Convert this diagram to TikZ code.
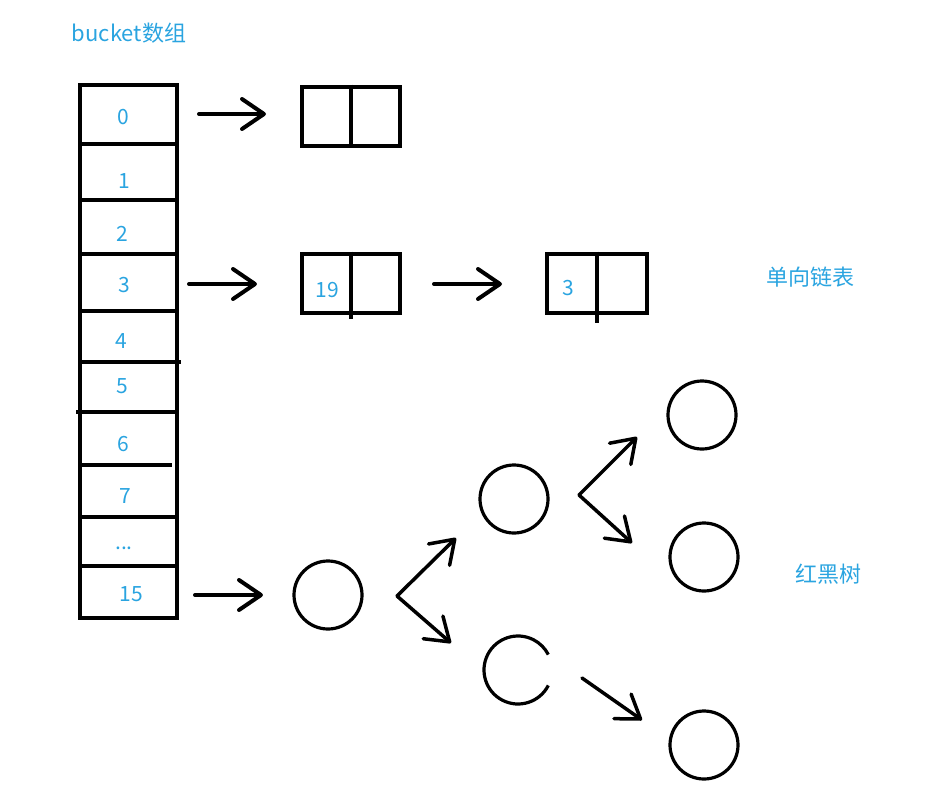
\documentclass[tikz,border=0pt]{standalone}
\usepackage{fontspec}
\newfontfamily\cjk{Noto Sans CJK SC}
\usepackage{tikz}
\usetikzlibrary{arrows.meta,positioning}
\definecolor{idxblue}{RGB}{42,164,224}

\begin{document}
\begin{tikzpicture}[x=1pt, y=-1pt,
    idx/.style={text=idxblue, inner sep=0pt, font=\cjk\fontsize{21}{25}\selectfont},
    heading/.style={text=idxblue, inner sep=0pt, font=\cjk\fontsize{22}{26}\selectfont},
    bar/.style={line width=4pt},
    lbox/.style={draw, line width=4pt, minimum width=98pt, minimum height=59pt, inner sep=0pt},
    tnode/.style={draw, circle, line width=3.2pt, minimum size=68pt, inner sep=0pt},
    arr/.style={line width=4pt, line cap=round, -{Straight Barb[length=22pt, width=30pt, round]}}]
\useasboundingbox (0,0) rectangle (935,785);
% bucket array (pixel grid, y downwards)
\node[heading] (title) at (129,33) {bucket数组};
\draw[bar] (80,85) rectangle (177,618);
\foreach \y/\xa/\xb in {144/78/177, 200/80/177, 254/80/177, 311/80/177, 362/78/181,
    412/76/177, 465/78/172, 517/80/177, 566/80/177}
  \draw[bar] (\xa,\y) -- (\xb,\y);
\foreach \i/\x/\y in {0/123/117, 1/124/181, 2/122/234, 3/124/285, 4/121/341,
    5/122/386, 6/123/444, 7/125/496, 15/131/594}
  \node[idx] (b\i) at (\x,\y) {\i};
\node[idx] (bdots) at (124,548) {...};

% singly linked lists
\node[lbox] (l0) at (351,116) {};
\draw[bar] (l0.north) -- (l0.south);
\node[lbox] (l19) at (351,283) {};
\draw[bar] (l19.north) -- ([yshift=-4pt]l19.south);
\node[idx] (v19) at (327,290) {19};
\node[lbox, minimum width=100pt] (l3) at (597,283) {};
\draw[bar] (l3.north) -- ([yshift=-8pt]l3.south);
\node[idx] (v3) at (568,288) {3};
\node[heading] (single) at (810,277) {单向链表};

\coordinate (a0s) at (199,114);  \coordinate (a0e) at (266,114);
\coordinate (a3s) at (189,284);  \coordinate (a3e) at (257,284);
\coordinate (a19s) at (434,284); \coordinate (a19e) at (502,284);
\coordinate (a15s) at (195,595); \coordinate (a15e) at (263,595);
\draw[arr] (a0s) -- (a0e);
\draw[arr] (a3s) -- (a3e);
\draw[arr] (a19s) -- (a19e);
\draw[arr] (a15s) -- (a15e);

% red-black tree
\node[tnode] (rt) at (328,595) {};
\node[tnode] (ra) at (514,499) {};
\node[tnode, draw=none] (rb) at (518,670) {};
\draw[line width=3.2pt] (rb.center) ++(27:34) arc[start angle=27, end angle=333, radius=34];
\node[tnode] (rc) at (702,415) {};
\node[tnode] (rd) at (704,557) {};
\node[tnode] (re) at (704,745) {};
\node[heading] (rbt) at (828,574) {红黑树};

\coordinate (k1) at (397,596); \coordinate (k1u) at (456,538); \coordinate (k1d) at (451,643);
\coordinate (k2) at (579,495); \coordinate (k2u) at (637,437); \coordinate (k2d) at (632,543);
\coordinate (k3) at (582,678); \coordinate (k3e) at (642,720);
\draw[arr, line width=3.5pt] (k1) -- (k1u);
\draw[arr, line width=3.5pt] (k1) -- (k1d);
\draw[arr, line width=3.5pt] (k2) -- (k2u);
\draw[arr, line width=3.5pt] (k2) -- (k2d);
\draw[arr, line width=3.5pt] (k3) -- (k3e);
\end{tikzpicture}
\end{document}
